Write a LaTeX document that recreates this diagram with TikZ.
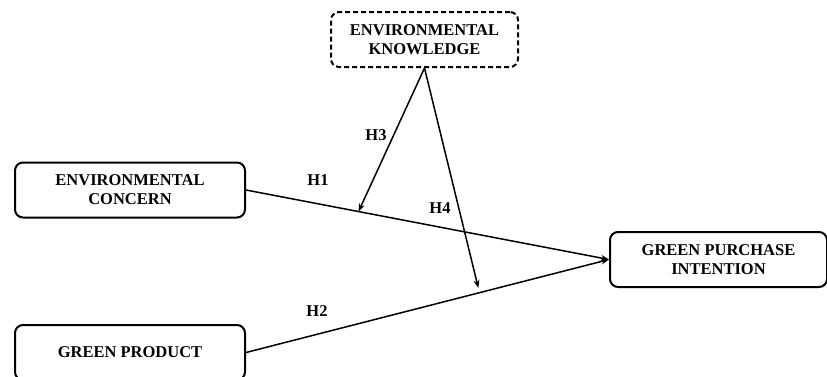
\documentclass[tikz,border=0pt]{standalone}
\usepackage{fontspec}
\setmainfont{Liberation Serif}
\usetikzlibrary{calc,arrows.meta}
\begin{document}
\begin{tikzpicture}[x=1pt, y=-1pt,
construct/.style={draw, line width=2pt, rounded corners=8pt, minimum height=55pt,
  align=center, inner sep=0pt, font=\fontsize{16.5}{19}\selectfont\bfseries},
moderator/.style={construct, dashed, dash pattern=on 5pt off 3pt},
path/.style={line width=1.5pt, -{Stealth[length=8pt, width=6pt]}},
hyp/.style={font=\fontsize{16.5}{19}\selectfont\bfseries}]
\useasboundingbox (0,0) rectangle (827,376);
\node[moderator, minimum width=187pt] (ek) at (424.5,39.5) {ENVIRONMENTAL\\KNOWLEDGE};
\node[construct, minimum width=230pt] (ec) at (130,190) {ENVIRONMENTAL\\CONCERN};
\node[construct, minimum width=230pt] (gp) at (130,352.5) {GREEN PRODUCT};
\node[construct, minimum width=217pt] (gpi) at (718.5,259.5) {GREEN PURCHASE\\INTENTION};
% moderation points on the direct paths
\coordinate (m3) at ($(ec.east)!0.31!(gpi.west)$);
\coordinate (m4) at ($(gp.east)!0.64!(gpi.west)$);
\draw[path] (ec.east) -- (gpi.west);
\draw[path] (gp.east) -- (gpi.west);
\draw[path] (ek.south) -- (m3);
\draw[path] (ek.south) -- ($(m4)+(0,-5)$);
\node[hyp] (h1) at (318,180) {H1};
\node[hyp] (h2) at (317,311) {H2};
\node[hyp] (h3) at (376,135) {H3};
\node[hyp] (h4) at (440,208) {H4};
\end{tikzpicture}
\end{document}
